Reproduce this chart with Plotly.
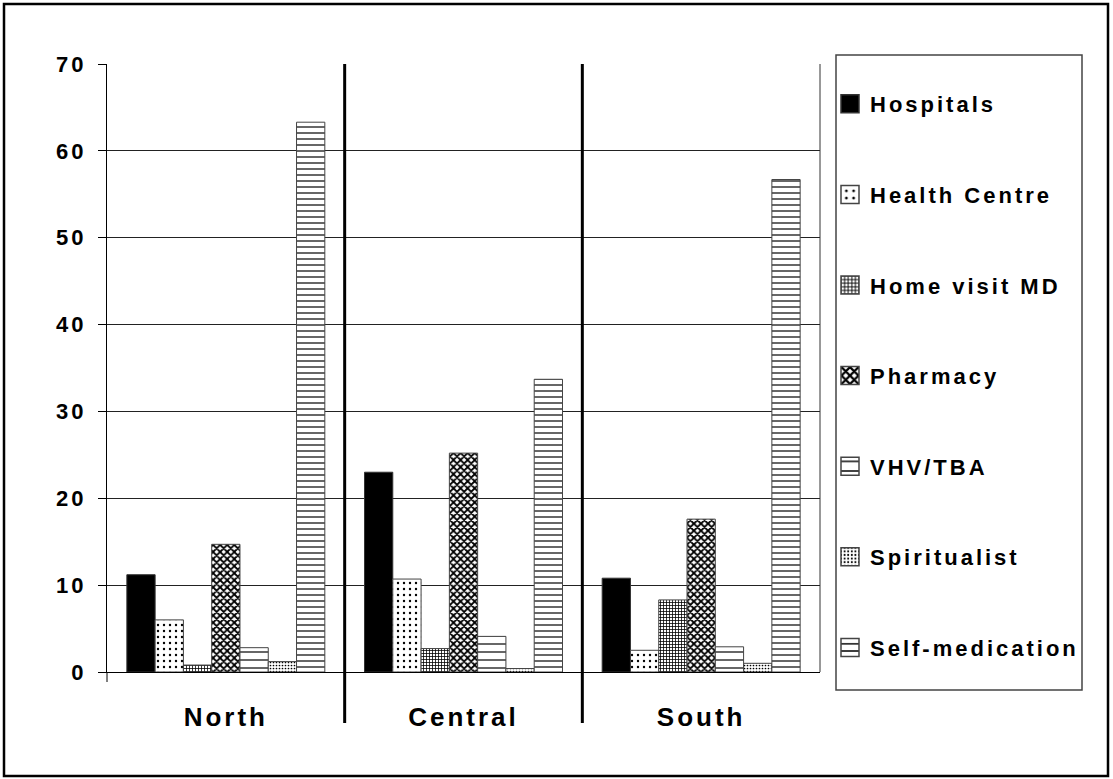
import plotly.graph_objects as go

# Regions on the category axis
regions = ["North", "Central", "South"]

# Source of treatment, one series per source (percent of respondents)
sources = ["Hospitals", "Health Centre", "Home visit MD", "Pharmacy",
           "VHV/TBA", "Spiritualist", "Self-medication"]

hospitals = [11.2, 23.0, 10.8]
health_centre = [6.0, 10.7, 2.5]
home_visit_md = [0.8, 2.7, 8.3]
pharmacy = [14.7, 25.2, 17.6]
vhv_tba = [2.8, 4.1, 2.9]
spiritualist = [1.2, 0.4, 1.0]
self_medication = [63.3, 33.7, 56.7]

series = [hospitals, health_centre, home_visit_md, pharmacy,
          vhv_tba, spiritualist, self_medication]

y_ticks = [0, 10, 20, 30, 40, 50, 60, 70]

FONT = "Liberation Sans, Arial, sans-serif"

# monochrome fills: (shape, size, solidity); None = solid black
fills = [
    None,
    (".", 6, 0.12),
    ("+", 3, 0.45),
    ("x", 5, 0.6),
    ("-", 8, 0.15),
    (".", 3, 0.25),
    ("-", 6, 0.2),
]

W, H = 1113, 779
L, R, T, B = 107, 820, 64, 672  # plot area in pixels


def px_x(p):
    return (p - L) / (R - L)


def px_y(p):
    return (B - p) / (B - T)


fig = go.Figure()
for name, vals, fill in zip(sources, series, fills):
    if fill is None:
        marker = dict(color="black", line=dict(color="#333", width=1))
    else:
        shape, size, sol = fill
        marker = dict(color="white", line=dict(color="#444", width=1),
                      pattern=dict(shape=shape, size=size, solidity=sol,
                                   fgcolor="black", bgcolor="white",
                                   fillmode="replace"))
    fig.add_trace(go.Bar(x=regions, y=vals, name=name, marker=marker,
                         legendgroup=name, hoverinfo="skip"))

shapes = []
# outer frame
shapes.append(dict(type="rect", xref="paper", yref="paper",
                   x0=px_x(4), x1=px_x(1108), y0=px_y(776), y1=px_y(4),
                   line=dict(color="black", width=2.5), layer="below"))
# legend frame
shapes.append(dict(type="rect", xref="paper", yref="paper",
                   x0=px_x(836), x1=px_x(1082), y0=px_y(690), y1=px_y(55),
                   line=dict(color="#444", width=1.5)))
# right edge of the plot area
shapes.append(dict(type="line", xref="paper", yref="paper",
                   x0=1, x1=1, y0=0, y1=1,
                   line=dict(color="#333", width=1)))
# left axis extends below the baseline
shapes.append(dict(type="line", xref="paper", yref="paper",
                   x0=0, x1=0, y0=px_y(682), y1=0,
                   line=dict(color="black", width=1)))
# heavy separators between regions
for xs in (0.5, 1.5):
    shapes.append(dict(type="line", xref="x", yref="paper",
                       x0=xs, x1=xs, y0=px_y(723), y1=1,
                       line=dict(color="black", width=3)))

fig.update_layout(
    width=W, height=H,
    margin=dict(l=L, r=W - R, t=T, b=H - B),
    paper_bgcolor="white", plot_bgcolor="white",
    barmode="group", bargap=0.167, bargroupgap=0,
    showlegend=True,
    legend=dict(x=px_x(830), y=px_y(83), xanchor="left", yanchor="top",
                bgcolor="rgba(0,0,0,0)", borderwidth=0,
                traceorder="grouped", tracegroupgap=59,
                font=dict(family=FONT, size=22, color="black", weight="bold"),
                itemclick=False, itemdoubleclick=False),
    shapes=shapes,
    xaxis=dict(showgrid=False, showline=True, linecolor="black", linewidth=1,
               ticks="", ticklabelstandoff=22,
               tickfont=dict(family=FONT, size=26, color="black", weight="bold"),
               fixedrange=True),
    yaxis=dict(range=[0, 70], tickvals=y_ticks, showgrid=True,
               gridcolor="#222", gridwidth=1, zeroline=False,
               showline=True, linecolor="black", linewidth=1,
               ticks="outside", ticklen=8, tickcolor="black",
               ticklabelstandoff=7,
               tickfont=dict(family=FONT, size=22, color="black", weight="bold"),
               fixedrange=True),
)

# widen the letter spacing of the labels, enlarge the legend swatches
# and let the spaced legend text run past the measured legend width
post = """
var gd = document.getElementById('{plot_id}');
var st = document.createElement('style');
st.textContent = '.legendtext, .xtick text, .ytick text {letter-spacing: 3px;}';
document.head.appendChild(st);
Plotly.newPlot(gd, gd.data, gd.layout, {displayModeBar: false}).then(function () {
  gd.querySelectorAll('g.legendpoints path').forEach(function (p) {
    var t = p.getAttribute('transform') || '';
    p.setAttribute('transform', t + ' scale(1.5)');
  });
  gd.querySelectorAll('.legend [clip-path]').forEach(function (n) {
    n.removeAttribute('clip-path');
  });
});
"""

fig.write_html("out.html", config={"displayModeBar": False}, post_script=post)
